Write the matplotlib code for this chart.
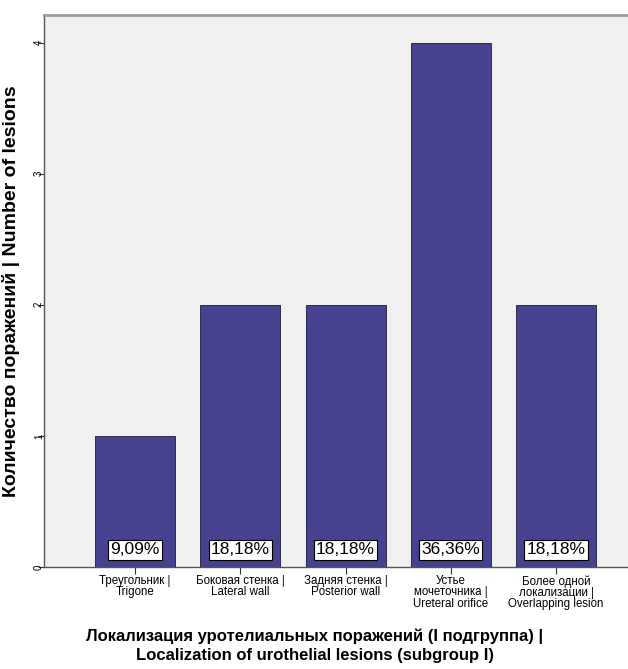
import matplotlib.pyplot as plt
import numpy as np

plt.rcParams['font.family'] = ['Liberation Sans', 'DejaVu Sans']

# Data
categories = [
    "Треугольник |\nTrigone",
    "Боковая стенка |\nLateral wall",
    "Задняя стенка |\nPosterior wall",
    "Устье\nмочеточника |\nUreteral orifice",
    "Более одной\nлокализации |\nOverlapping lesion",
]
counts = [1, 2, 2, 4, 2]
percent_labels = ["9,09%", "18,18%", "18,18%", "36,36%", "18,18%"]
y_ticks = [0, 1, 2, 3, 4]

bar_color = "#46428f"
bg_color = "#f0f0f0"

fig = plt.figure(figsize=(6.28, 6.69), dpi=100)
ax = fig.add_axes([0.070, 0.1525, 0.93, 0.8251])
ax.set_facecolor(bg_color)

x = np.arange(len(categories))
ax.bar(x, counts, width=0.76, color=bar_color, edgecolor="#1a1a3a", linewidth=0.6, zorder=2)

# percentage boxes at the foot of each bar
for xi, lab in zip(x, percent_labels):
    ax.text(xi, 0.13, lab, ha="center", va="center", fontsize=12.5, color="black",
            bbox=dict(boxstyle="square,pad=0.12", facecolor="white", edgecolor="black", linewidth=0.8),
            zorder=3)

ax.set_xlim(-0.865, 4.684)
ax.set_ylim(0, 4.21)

ax.set_xticks(x)
ax.set_xticklabels(categories, fontsize=8.3, linespacing=0.9)
ax.set_yticks(y_ticks)
ax.set_yticklabels([str(t) for t in y_ticks], fontsize=7, rotation=90, va="center")
ax.tick_params(axis="x", length=5, width=0.8, color="#333333", pad=1)
ax.tick_params(axis="y", length=4, width=0.8, color="#333333", pad=-4)

for side in ["left", "bottom"]:
    ax.spines[side].set_color("#555555")
    ax.spines[side].set_linewidth(1.0)
ax.spines["top"].set_color("#a09a9a")
ax.spines["top"].set_linewidth(2.0)
ax.spines["right"].set_visible(False)

ax.set_xlabel("Локализация уротелиальных поражений (I подгруппа) |\nLocalization of urothelial lesions (subgroup I)",
              fontsize=12, fontweight="bold", linespacing=1.3)
ax.xaxis.set_label_coords(0.464, -0.112)
ax.set_ylabel("Количество поражений | Number of lesions", fontsize=14, fontweight="bold")
ax.yaxis.set_label_coords(-0.041, 0.5)

fig.savefig("out.png", dpi=100, facecolor="white")
